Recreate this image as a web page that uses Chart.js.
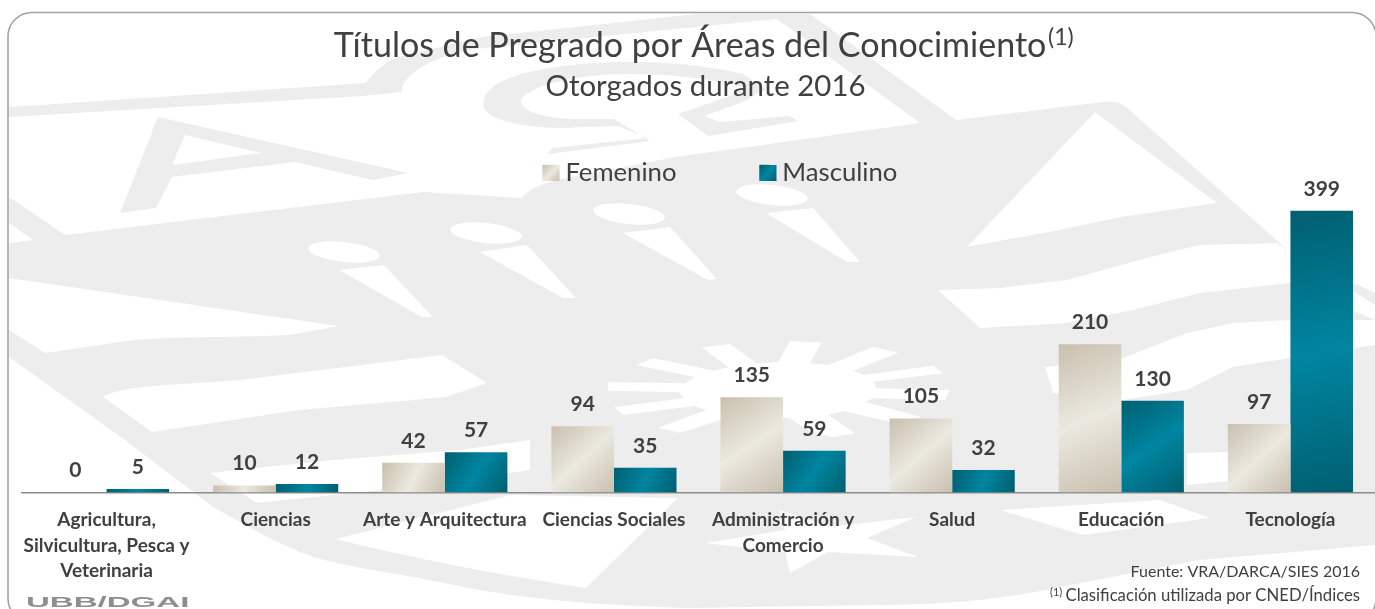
<!DOCTYPE html>
<html lang="es">
<head>
<meta charset="utf-8">
<script src="https://cdn.jsdelivr.net/npm/chart.js@4"></script>
<style>
html,body{margin:0;padding:0;background:#fff;width:1375px;height:609px;overflow:hidden}
#wrap{position:relative;width:1375px;height:609px}
#wm{position:absolute;left:0;top:0}
canvas{position:absolute;left:0;top:0}
</style>
</head>
<body>
<div id="wrap">
<svg id="wm" width="1375" height="609" viewBox="0 0 1375 609">
  <!-- decorative emblem watermark -->
  <path fill="#ededed" d="M9,107 L366,83 C375,70 385,62 398,57 L482,37 L697,14 L810,14 L956,120 L1103,102 Q1116,100 1126,107 L1291,253 L1375,293 L1375,545 L1200,560 L1060,587 C1000,600 940,605 882,605 L688,608 C600,605 520,600 445,583 C380,570 330,565 300,552 L267,537 L213,507 L125,440 L9,357 Z"/>
  <path fill="#fff" d="M9,117 L362,96 L402,92 C400,80 420,65 446,56 L475,49 L777,19 L920,123 L675,157 L600,172 C560,178 530,185 522,198 L424,192 L65,235 L9,197 Z"/>
  <path fill="#fff" d="M9,223 L33,240 L9,243 Z"/>
  <!-- letter A -->
  <path fill="#ededed" fill-rule="evenodd" d="M120,213 L158,117 L408,173 L373,180 L295,162 L172,177 L156,208 Z M172,165 L185,135 L261,153 Z"/>
  <!-- S shape -->
  <path fill="#ededed" d="M766,89 L743,74 C700,64 660,62 628,62 C570,62 513,72 495,85 C484,93 482,103 484,108 C490,120 520,127 560,128 L618,126 L648,138 L552,148 L548,154 L650,141 L614,119 L574,119 C540,118 521,110 521,101 C521,92 560,74 628,74 C670,74 710,78 743,87 Z"/>
  <path fill="#ededed" d="M766,89 L743,102 L704,116 L720,122 L789,116 L798,121 L708,136 L678,114 L730,96 L743,87 Z"/>
  <!-- white wedge and waves on the left -->
  <path fill="#fff" d="M9,278 L339,326 L290,335 C230,338 180,336 134,340 L45,353 L9,330 Z"/>
  <path fill="#fff" d="M103,397 C120,385 180,385 240,380 L442,355 L487,383 L446,397 L300,410 L152,432 Z"/>
  <path fill="#fff" d="M210,473 C250,468 290,465 333,460 L460,450 L530,440 L530,470 L380,490 L257,503 Z"/>
  <path fill="#fff" d="M336,539 L510,495 L678,498 L586,588 C500,575 420,560 336,539 Z"/>
  <!-- torches -->
  <g fill="#fff">
    <ellipse cx="344" cy="252" rx="36" ry="10" transform="rotate(6 344 252)"/>
    <ellipse cx="486" cy="233" rx="36" ry="10" transform="rotate(6 486 233)"/>
    <ellipse cx="629" cy="214" rx="36" ry="10" transform="rotate(6 629 214)"/>
    <ellipse cx="772" cy="195" rx="36" ry="10" transform="rotate(6 772 195)"/>
    <path d="M339,270 L384,265 L433,317 L422,317 Z"/>
    <path d="M480,252 L527,245 L576,298 L563,298 Z"/>
    <path d="M623,233 L670,227 L717,279 L708,280 Z"/>
    <path d="M766,213 L813,208 L860,262 L847,262 Z"/>
  </g>
  <!-- sun -->
  <path fill="#fff" d="M706.7,410 L658.3,427.7 L680,432.7 L736.7,415 L790,418.3 L806.7,430 L833.3,437.3 L855,433.3 L828.3,415 L843.3,411 L890,421.7 L921.7,417.3 L865,401.7 L873.3,398.3 L945,400 L950,390 L876.7,388.3 L873.3,381.7 L943.3,373.3 L933.3,365.7 L863.3,375 L853.3,370.7 L898.3,352.7 L873.3,346.7 L828.3,365 L810,363.3 L821.7,342.7 L790,341 L778.3,361.7 L756.7,363.3 L730,344 L701.7,347.3 L728.3,367.3 L715,370.7 L653.3,358.3 L636,365 L695,377.3 L685,383.3 L607.3,382.3 L608.3,390.7 L679.3,392.3 L683.3,398.3 L614,407.3 L623.3,415 L695,406 Z"/>
  <!-- shield triangle and waves on the right -->
  <path fill="#fff" d="M1095,112 L1217,203 L1121,217 L1059,230 L967,247 Z"/>
  <path fill="#fff" d="M938,290 L1000,288 L1067,280 L1150,257 L1200,245 L1277,243 L1375,305 L1375,320 L1290,283 L1200,293 L1133,310 L1067,323 L980,328 Z"/>
  <path fill="#fff" d="M1045,367 L1123,358 L1187,333 L1233,323 L1290,320 L1375,320 L1375,345 L1290,358 L1233,367 L1187,390 L1123,400 L1053,393 Z"/>
  <path fill="#fff" d="M1187,453 L1230,452 L1290,460 L1290,475 L1240,480 L1187,485 Z"/>
  <path fill="#fff" d="M1000,510 L1160,500 L1210,518 L1083,535 Z"/>
  <!-- lower star -->
  <path fill="#fff" d="M780,510 L828,527 L916,517 L867,538 L918,557 L828,552 L790,573 L785,552 L705,543 L785,530 Z"/>
  <!-- rounded frame -->
  <rect x="8" y="12.5" width="1368" height="610" rx="24" ry="24" fill="none" stroke="#a3a3a3" stroke-width="1.6"/>
</svg>
<canvas id="c" width="1375" height="609"></canvas>
</div>
<script>
const categories = [
  ["Agricultura,", "Silvicultura, Pesca y", "Veterinaria"],
  "Ciencias",
  "Arte y Arquitectura",
  "Ciencias Sociales",
  ["Administración y", "Comercio"],
  "Salud",
  "Educación",
  "Tecnología"
];
const femenino = [0, 10, 42, 94, 135, 105, 210, 97];
const masculino = [5, 12, 57, 35, 59, 32, 130, 399];
const titleText = "Títulos de Pregrado por Áreas del Conocimiento";
const subtitleText = "Otorgados durante 2016";
const sourceText = "Fuente: VRA/DARCA/SIES 2016";
const noteText = "Clasificación utilizada por CNED/Índices";
const stampText = "UBB/DGAI";

const FONT = "Lato, Carlito, 'Open Sans', sans-serif";
const INK = "#404040";
const RAMPS = [["#c9bfae", "#ebe9e0"], ["#005f70", "#0085a1"]];

function ramp(ctx, x0, y0, x1, y1, i) {
  const g = ctx.createLinearGradient(x0, y0, x1, y1);
  g.addColorStop(0, RAMPS[i][0]);
  g.addColorStop(0.5, RAMPS[i][1]);
  g.addColorStop(1, RAMPS[i][0]);
  return g;
}

const LEGEND_H = 71, LEGEND_PAD = 83;

const artwork = {
  id: "artwork",
  beforeLayout(chart) {
    const lg = chart.legend;
    if (lg && !lg.__wrapped) {
      const fit = lg.fit;
      lg.fit = function () { fit.call(this); this.height = LEGEND_H; };
      lg.__wrapped = true;
    }
  },
  afterLayout(chart) {
    const lg = chart.legend;
    lg.left += 21.5; lg.right += 21.5;
    lg.top = 175 - LEGEND_PAD - 15; lg.bottom = lg.top + 2 * LEGEND_PAD + 30;
    chart.boxes.forEach(b => {
      if (b.options && b.options.text === subtitleText) { b.left += 7; b.right += 7; }
      if (b.options && b.options.text === titleText) { b.left -= 8.5; b.right -= 8.5; }
    });
  },
  beforeDatasetsDraw(chart) {
    const ctx = chart.ctx;
    chart.data.datasets.forEach((d, i) => {
      chart.getDatasetMeta(i).data.forEach(el => {
        const w = el.width / 2;
        el.options = Object.assign({}, el.options, {
          backgroundColor: ramp(ctx, el.x - w, el.y, el.x + w, el.base, i)
        });
      });
    });
  },
  afterDatasetsDraw(chart) {
    const ctx = chart.ctx;
    ctx.save();
    ctx.font = "bold 21px " + FONT;
    ctx.fillStyle = INK;
    ctx.textAlign = "center";
    ctx.textBaseline = "middle";
    chart.data.datasets.forEach((d, i) => {
      chart.getDatasetMeta(i).data.forEach((el, j) => {
        ctx.fillText(String(d.data[j]), el.x, el.y - 22);
      });
    });
    ctx.restore();
  },
  afterDraw(chart) {
    const ctx = chart.ctx;
    ctx.save();
    // legend swatches
    chart.legend.legendHitBoxes.forEach((h, i) => {
      const y = 165;
      ctx.fillStyle = ramp(ctx, h.left, y, h.left + 17, y + 16, i);
      ctx.fillRect(h.left, y, 17, 16);
    });
    ctx.fillStyle = INK;
    ctx.textBaseline = "middle";
    // title superscript
    ctx.textAlign = "left";
    ctx.font = "23px " + FONT;
    ctx.fillText("(1)", 1048, 38);
    // notes
    ctx.textAlign = "right";
    ctx.font = "16px " + FONT;
    ctx.fillText(sourceText, 1360, 572);
    ctx.font = "16.7px " + FONT;
    ctx.fillText(noteText, 1360, 596);
    ctx.textAlign = "left";
    ctx.font = "11px " + FONT;
    ctx.fillText("(1)", 1050, 592);
    // stamp
    ctx.fillStyle = "#8e8e8e";
    ctx.translate(26, 607);
    ctx.scale(2.36, 1);
    ctx.textBaseline = "alphabetic";
    ctx.font = "bold 14px 'Liberation Sans', sans-serif";
    ctx.fillText(stampText, 0, 0);
    ctx.restore();
  }
};

new Chart(document.getElementById("c"), {
  type: "bar",
  data: {
    labels: categories,
    datasets: [
      { label: "Femenino", data: femenino, backgroundColor: "#e0dbcf", barPercentage: 1, categoryPercentage: 0.74 },
      { label: "Masculino", data: masculino, backgroundColor: "#00778f", barPercentage: 1, categoryPercentage: 0.74 }
    ]
  },
  options: {
    responsive: false,
    animation: false,
    events: [],
    layout: { padding: { left: 22, right: 0, top: 0, bottom: 18 } },
    scales: {
      x: {
        grid: { display: false },
        border: { display: true, color: "#8c8c8c", width: 1.5 },
        ticks: {
          autoSkip: false, maxRotation: 0, minRotation: 0, padding: 7,
          color: INK,
          font: { family: FONT, size: 19, weight: "bold", lineHeight: 1.342 }
        }
      },
      y: { display: false, min: 0, max: 449, grid: { display: false } }
    },
    plugins: {
      tooltip: { enabled: false },
      title: {
        display: true, text: titleText, color: INK,
        font: { family: FONT, size: 34, weight: "normal", lineHeight: 1.2 },
        padding: { top: 26, bottom: 0 }
      },
      subtitle: {
        display: true, text: subtitleText, color: INK,
        font: { family: FONT, size: 29.4, weight: "normal", lineHeight: 1.2 },
        padding: { top: 2.5, bottom: 0 }
      },
      legend: {
        display: true, position: "top",
        labels: {
          boxWidth: 10, boxHeight: 16, padding: LEGEND_PAD, color: INK,
          font: { family: FONT, size: 25.7 },
          generateLabels(chart) {
            return chart.data.datasets.map((d, i) => ({
              text: d.label, fillStyle: d.backgroundColor, strokeStyle: "transparent",
              lineWidth: 0, datasetIndex: i, fontColor: INK
            }));
          }
        }
      }
    }
  },
  plugins: [artwork]
});
</script>
</body>
</html>
